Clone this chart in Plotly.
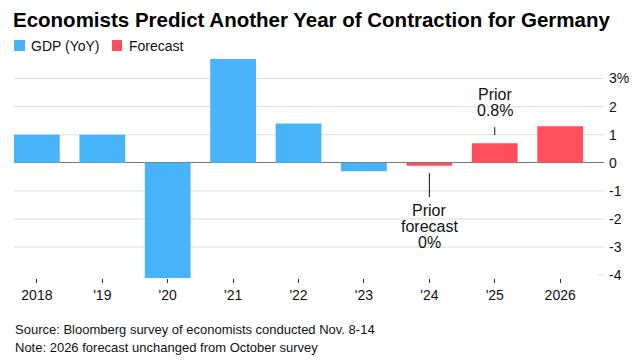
import plotly.graph_objects as go

# ---- data ----
categories = ["2018", "'19", "'20", "'21", "'22", "'23", "'24", "'25", "2026"]
gdp_cats = ["2018", "'19", "'20", "'21", "'22", "'23"]
gdp_values = [1.0, 1.0, -4.1, 3.7, 1.4, -0.3]
forecast_cats = ["'24", "'25", "2026"]
forecast_values = [-0.1, 0.7, 1.3]
ytick_vals = [3, 2, 1, 0, -1, -2, -3, -4]
ytick_text = ["3%", "2", "1", "0", "-1", "-2", "-3", "-4"]

BLUE = "#47b4fa"
RED = "#ff4f5c"
FONT = "Liberation Sans"

W, H = 638, 363
ML, MR, MT, MB = 14, 34, 55, 85
PLOT_H = H - MT - MB
PLOT_W = W - ML - MR

fig = go.Figure()
fig.add_trace(go.Bar(x=gdp_cats, y=gdp_values, marker_color=BLUE, marker_line_width=0,
                     name="GDP (YoY)", showlegend=False, hoverinfo="skip"))
fig.add_trace(go.Bar(x=forecast_cats, y=forecast_values, marker_color=RED, marker_line_width=0,
                     name="Forecast", showlegend=False, hoverinfo="skip"))

# gridlines (the -4 line is only a short stub at the right edge)
shapes = []
for v in ytick_vals:
    if v == 0:
        continue
    x0 = 0.99 if v == -4 else 0
    shapes.append(dict(type="line", xref="paper", yref="y", x0=x0, x1=1.0, y0=v, y1=v,
                       line=dict(color="#dcdcdc", width=1), layer="below"))

# callout lines
shapes.append(dict(type="line", xref="x", yref="y", x0="'24", x1="'24", y0=-0.36, y1=-1.22,
                   line=dict(color="#111", width=1)))
shapes.append(dict(type="line", xref="x", yref="y", x0="'25", x1="'25", y0=1.27, y1=0.99,
                   line=dict(color="#111", width=1)))

def px_x(p):
    return (p - ML) / PLOT_W

def px_y(p):
    return (H - MB - p) / PLOT_H

# legend squares
shapes.append(dict(type="rect", xref="paper", yref="paper", x0=px_x(14), x1=px_x(25),
                   y0=px_y(51), y1=px_y(40), fillcolor=BLUE, line_width=0))
shapes.append(dict(type="rect", xref="paper", yref="paper", x0=px_x(112), x1=px_x(122),
                   y0=px_y(51), y1=px_y(40), fillcolor=RED, line_width=0))

annotations = []
def txt(x, y, s, size=16, xref="x", yref="y", xanchor="center", color="#111"):
    annotations.append(dict(x=x, y=y, xref=xref, yref=yref, text=s, showarrow=False,
                            xanchor=xanchor, yanchor="middle",
                            font=dict(family=FONT, size=size, color=color)))

txt("'24", -1.68, "Prior")
txt("'24", -2.28, "forecast")
txt("'24", -2.85, "0%")
txt("'25", 2.45, "Prior")
txt("'25", 1.88, "0.8%")

# legend text
txt(px_x(29), px_y(45.5), "GDP (YoY)", size=14, xref="paper", yref="paper", xanchor="left")
txt(px_x(127), px_y(45.5), "Forecast", size=14, xref="paper", yref="paper", xanchor="left")

# footer
txt(px_x(13), px_y(329), "Source: Bloomberg survey of economists conducted Nov. 8-14",
    size=13, xref="paper", yref="paper", xanchor="left")
txt(px_x(13), px_y(347), "Note: 2026 forecast unchanged from October survey",
    size=13, xref="paper", yref="paper", xanchor="left")

fig.update_layout(
    width=W, height=H,
    margin=dict(l=ML, r=MR, t=MT, b=MB, autoexpand=False),
    paper_bgcolor="white", plot_bgcolor="white",
    bargap=0.3, barmode="overlay",
    showlegend=False,
    title=dict(text="<b>Economists Predict Another Year of Contraction for Germany</b>",
               x=13 / W, xanchor="left", y=1 - 20 / H, yanchor="middle",
               font=dict(family=FONT, size=20.5, color="#000")),
    shapes=shapes,
    annotations=annotations,
    xaxis=dict(type="category", categoryorder="array", categoryarray=categories,
               range=[-0.35, 8.67], showgrid=False, zeroline=False, showline=False,
               ticks="outside", ticklen=4, tickcolor="#333", tickwidth=1, automargin=False,
               tickfont=dict(family=FONT, size=14, color="#111")),
    yaxis=dict(side="right", range=[-4.1, 3.84], tickvals=ytick_vals, ticktext=ytick_text,
               showgrid=False, zeroline=True, zerolinecolor="#777", zerolinewidth=1,
               showline=False, ticks="", ticklabelstandoff=4, automargin=False,
               tickfont=dict(family=FONT, size=14, color="#111")),
)

fig.write_html("out.html", post_script="document.body.style.margin='0';",
               config={"displayModeBar": False, "staticPlot": True})
